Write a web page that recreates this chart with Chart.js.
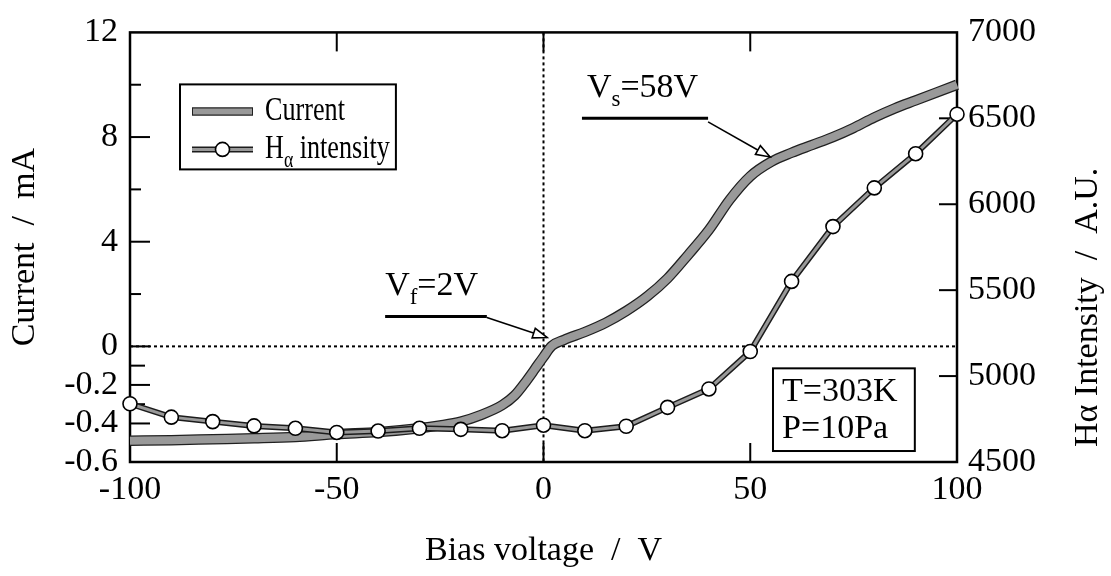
<!DOCTYPE html>
<html>
<head>
<meta charset="utf-8">
<script src="https://cdn.jsdelivr.net/npm/chart.js@4.4.1/dist/chart.umd.min.js"></script>
<style>
html,body{margin:0;padding:0;background:#fff;}
#wrap{width:1111px;height:576px;position:relative;}
canvas{display:block;}
</style>
</head>
<body>
<div id="wrap"><canvas id="c" width="1111" height="576" style="width:1111px;height:576px"></canvas></div>
<script>
// ---------------- data ----------------
const biasCurrent = [-100,-90,-80,-70,-60,-50,-40,-30,-25,-20,-15,-10,-7,-4,-2,0,2,5,10,15,20,25,30,35,40,45,50,55,60,65,70,75,80,85,90,95,100];
const current     = [-0.49,-0.487,-0.482,-0.477,-0.47,-0.455,-0.445,-0.425,-0.41,-0.39,-0.355,-0.305,-0.255,-0.175,-0.115,-0.055,0.02,0.25,0.55,0.9,1.35,1.9,2.6,3.5,4.45,5.6,6.5,7.05,7.4,7.7,8.0,8.35,8.75,9.1,9.4,9.7,10.0];
const biasH       = [-100,-90,-80,-70,-60,-50,-40,-30,-20,-10,0,10,20,30,40,50,60,70,80,90,100];
const hIntensity  = [4839,4761,4735,4710,4696,4672,4680,4696,4690,4682,4714,4682,4708,4818,4925,5143,5551,5870,6095,6294,6524];
const xTicks = [-100,-50,0,50,100];
const currentTicks = [12,8,4,0,-0.2,-0.4,-0.6];
const currentMinorTicks = [10,6,2,-0.1,-0.3,-0.5];
const intensityTicks = [4500,5000,5500,6000,6500,7000];

// ---------------- style ----------------
const FONT = '"Liberation Serif", "Times New Roman", serif';
const SZ = 34, SUB = 23, LSX = 0.77;
const K = 7.365; // the axis below 0 mA is stretched by this factor

class BrokenLinearScale extends Chart.LinearScale {
  getPixelForValue(v, i) { return super.getPixelForValue(v < 0 ? v * K : v, i); }
  getValueForPixel(p) { const t = super.getValueForPixel(p); return t < 0 ? t / K : t; }
}
BrokenLinearScale.id = 'brokenLinear';
Chart.register(BrokenLinearScale);

const curData = biasCurrent.map((v, i) => ({x: v, y: current[i]}));
const hData = biasH.map((v, i) => ({x: v, y: hIntensity[i]}));

const GRAY = '#999999';
function seg(ctx, x1, y1, x2, y2) { ctx.beginPath(); ctx.moveTo(x1, y1); ctx.lineTo(x2, y2); ctx.stroke(); }
function rich(ctx, x, y, parts, sx) {
  ctx.save();
  ctx.translate(x, y); ctx.scale(sx || 1, 1);
  let cx = 0;
  for (const p of parts) {
    ctx.font = (p.sub ? SUB : SZ) + 'px ' + FONT;
    ctx.fillText(p.t, cx, p.sub ? 9 : 0);
    cx += ctx.measureText(p.t).width;
  }
  ctx.restore();
  return cx * (sx || 1);
}
function arrow(ctx, x1, y1, x2, y2) {
  ctx.lineWidth = 1.6;
  seg(ctx, x1, y1, x2, y2);
  const ang = Math.atan2(y2 - y1, x2 - x1), L = 14, W = 5;
  const bx = x2 - L * Math.cos(ang), by = y2 - L * Math.sin(ang);
  ctx.beginPath();
  ctx.moveTo(x2, y2);
  ctx.lineTo(bx + W * Math.sin(ang), by - W * Math.cos(ang));
  ctx.lineTo(bx - W * Math.sin(ang), by + W * Math.cos(ang));
  ctx.closePath();
  ctx.fillStyle = '#fff'; ctx.fill(); ctx.stroke(); ctx.fillStyle = '#000';
}

// annotation anchors, in data units (V, mA)
const notes = [
  {parts: [{t: 'V'}, {t: 's', sub: true}, {t: '=58V'}], text: [10.5, 9.55], bar: [[9.3, 8.72], [39.8, 8.72]], arrow: [[39.8, 8.58], [54.8, 7.24]]},
  {parts: [{t: 'V'}, {t: 'f', sub: true}, {t: '=2V'}], text: [-38.3, 1.97], bar: [[-38.3, 1.14], [-13.7, 1.14]], arrow: [[-13.7, 1.1], [0.85, 0.34]]}
];
const condBox = {lines: ['T=303K', 'P=10Pa'], box: [[55.5, -0.114], [89.8, -0.543]], textX: 57.7, baselines: [-0.2845, -0.476]};

const decor = {
  id: 'decor',
  beforeDatasetsDraw(chart) {
    const {ctx, chartArea: a, scales: {x, yL, yR}} = chart;
    ctx.save();
    ctx.strokeStyle = '#000';
    // dotted zero lines
    ctx.setLineDash([3, 3]); ctx.lineWidth = 2;
    const y0 = yL.getPixelForValue(0), x0 = x.getPixelForValue(0);
    seg(ctx, a.left, y0, a.right, y0);
    seg(ctx, x0, a.top, x0, a.bottom);
    ctx.setLineDash([]);
    // frame
    ctx.lineWidth = 2.5;
    ctx.strokeRect(a.left, a.top, a.right - a.left, a.bottom - a.top);
    // inward ticks
    ctx.lineWidth = 2;
    currentTicks.forEach(v => { const y = yL.getPixelForValue(v); if (y > a.top + 2 && y < a.bottom - 2) seg(ctx, a.left, y, a.left + 20, y); });
    currentMinorTicks.forEach(v => { const y = yL.getPixelForValue(v); seg(ctx, a.left, y, a.left + (v < 0 ? 15 : 11), y); });
    intensityTicks.forEach(v => { const y = yR.getPixelForValue(v); if (y > a.top + 2 && y < a.bottom - 2) seg(ctx, a.right, y, a.right - 18, y); });
    xTicks.forEach(v => { const px = x.getPixelForValue(v); if (px > a.left + 2 && px < a.right - 2) { seg(ctx, px, a.bottom, px, a.bottom - 19); seg(ctx, px, a.top, px, a.top + 19); } });
    ctx.restore();
  },
  afterDatasetsDraw(chart) {
    const {ctx, chartArea: a, scales: {x, yL}} = chart;
    const P = (p) => [x.getPixelForValue(p[0]), yL.getPixelForValue(p[1])];
    ctx.save();
    ctx.fillStyle = '#000'; ctx.strokeStyle = '#000';
    ctx.textBaseline = 'alphabetic'; ctx.textAlign = 'left';
    // annotations
    for (const n of notes) {
      const t = P(n.text); rich(ctx, t[0], t[1], n.parts);
      const b1 = P(n.bar[0]), b2 = P(n.bar[1]);
      ctx.lineWidth = 3; seg(ctx, b1[0], b1[1], b2[0], b2[1]);
      const a1 = P(n.arrow[0]), a2 = P(n.arrow[1]);
      arrow(ctx, a1[0], a1[1], a2[0], a2[1]);
    }
    // condition box
    const c1 = P(condBox.box[0]), c2 = P(condBox.box[1]);
    ctx.fillStyle = '#fff'; ctx.fillRect(c1[0], c1[1], c2[0] - c1[0], c2[1] - c1[1]);
    ctx.fillStyle = '#000'; ctx.lineWidth = 2;
    ctx.strokeRect(c1[0], c1[1], c2[0] - c1[0], c2[1] - c1[1]);
    ctx.font = SZ + 'px ' + FONT;
    condBox.lines.forEach((s, i) => ctx.fillText(s, x.getPixelForValue(condBox.textX), yL.getPixelForValue(condBox.baselines[i])));
    // legend
    const ds = chart.data.datasets;
    const lx = a.left + 50, ly = a.top + 52;
    const r1 = ly + 27, r2 = ly + 65, l1 = lx + 12, l2 = lx + 73, tx = lx + 85;
    ctx.lineCap = 'butt';
    ctx.strokeStyle = ds[3].borderColor; ctx.lineWidth = ds[3].borderWidth - 2; seg(ctx, l1, r1, l2, r1);
    ctx.strokeStyle = ds[2].borderColor; ctx.lineWidth = ds[2].borderWidth - 2; seg(ctx, l1 + 1, r1, l2 - 1, r1);
    ctx.strokeStyle = ds[1].borderColor; ctx.lineWidth = ds[1].borderWidth; seg(ctx, l1, r2, l2, r2);
    ctx.strokeStyle = ds[0].borderColor; ctx.lineWidth = ds[0].borderWidth; seg(ctx, l1, r2, l2, r2);
    ctx.beginPath(); ctx.arc((l1 + l2) / 2, r2, ds[0].pointRadius, 0, Math.PI * 2);
    ctx.fillStyle = '#fff'; ctx.fill(); ctx.strokeStyle = '#000'; ctx.lineWidth = ds[0].pointBorderWidth; ctx.stroke();
    ctx.fillStyle = '#000';
    const w1 = rich(ctx, tx, r1 + 9, [{t: ds[2].label}], LSX);
    const w2 = rich(ctx, tx, r2 + 9, [{t: 'H'}, {t: 'α', sub: true}, {t: ' intensity'}], LSX);
    ctx.lineWidth = 2; ctx.strokeStyle = '#000';
    ctx.strokeRect(lx, ly, tx + Math.max(w1, w2) + 6 - lx, 85);
    // right axis title (reads bottom to top)
    ctx.save();
    ctx.translate(chart.width - 23, a.top + (a.bottom - a.top) * 0.64);
    ctx.rotate(-Math.PI / 2);
    ctx.textAlign = 'center'; ctx.textBaseline = 'middle';
    ctx.font = SZ + 'px ' + FONT;
    ctx.fillText('Hα Intensity  /  A.U.', 0, 0);
    ctx.restore();
    ctx.restore();
  }
};

const tickFont = {family: FONT, size: SZ};
new Chart(document.getElementById('c'), {
  type: 'line',
  data: {
    datasets: [
      {label: 'Hα intensity', data: hData, yAxisID: 'yR', borderColor: GRAY, borderWidth: 3, pointRadius: 7,
       pointBackgroundColor: '#fff', pointBorderColor: '#000', pointBorderWidth: 1.6, order: 0, clip: false, tension: 0},
      {label: 'Hα outline', data: hData, yAxisID: 'yR', borderColor: '#1c1c1c', borderWidth: 6, pointRadius: 0, order: 1, clip: false, tension: 0},
      {label: 'Current', data: curData, yAxisID: 'yL', borderColor: GRAY, borderWidth: 8, pointRadius: 0,
       cubicInterpolationMode: 'monotone', order: 2, clip: false},
      {label: 'Current outline', data: curData, yAxisID: 'yL', borderColor: '#202020', borderWidth: 10.5, pointRadius: 0,
       cubicInterpolationMode: 'monotone', order: 3, clip: false}
    ]
  },
  options: {
    responsive: false, animation: false, devicePixelRatio: 1,
    layout: {padding: {top: 31, left: 0, right: 0, bottom: 0}},
    plugins: {legend: {display: false}, tooltip: {enabled: false}},
    scales: {
      x: {
        type: 'linear', position: 'bottom', min: -100, max: 100,
        afterBuildTicks: s => { s.ticks = xTicks.map(v => ({value: v})); },
        afterFit: s => { s.height = 114; },
        grid: {display: false, drawTicks: false}, border: {display: false},
        ticks: {autoSkip: false, maxRotation: 0, padding: 8, color: '#000', font: tickFont, callback: v => String(v)},
        title: {display: true, text: 'Bias voltage  /  V', color: '#000', font: tickFont, padding: {top: 0, bottom: 5}}
      },
      yL: {
        type: 'brokenLinear', position: 'left', min: -0.6 * K, max: 12,
        afterBuildTicks: s => { s.ticks = currentTicks.map(v => ({value: v})); },
        afterFit: s => { s.width = 130; },
        grid: {display: false, drawTicks: false}, border: {display: false},
        ticks: {autoSkip: false, padding: 12, color: '#000', font: tickFont, callback: v => String(v)},
        title: {display: true, text: 'Current  /  mA', color: '#000', font: tickFont, padding: {top: 5, bottom: 0}}
      },
      yR: {
        type: 'linear', position: 'right', min: 4500, max: 7000,
        afterBuildTicks: s => { s.ticks = intensityTicks.map(v => ({value: v})); },
        afterFit: s => { s.width = 154; },
        grid: {display: false, drawTicks: false}, border: {display: false},
        ticks: {autoSkip: false, padding: 11, color: '#000', font: tickFont, callback: v => String(v)}
      }
    }
  },
  plugins: [decor]
});
</script>
</body>
</html>
